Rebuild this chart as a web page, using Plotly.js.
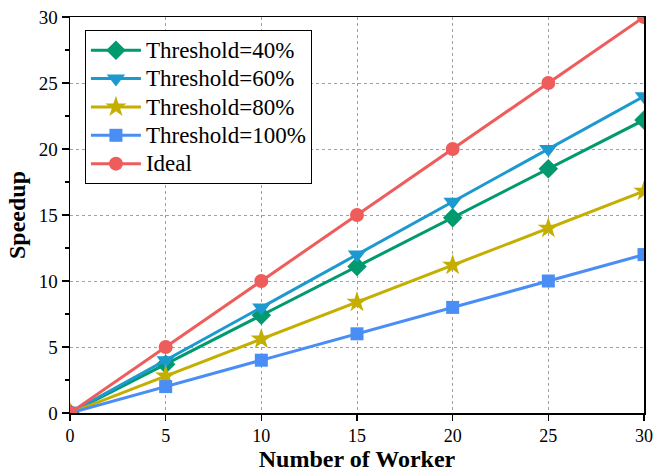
<!DOCTYPE html>
<html><head><meta charset="utf-8">
<script src="https://cdn.plot.ly/plotly-3.0.1.min.js"></script>
<style>html,body{margin:0;padding:0;background:#fff}</style>
</head><body>
<div id="chart" style="width:656px;height:472px"></div>
<script>
const workers = [0, 5, 10, 15, 20, 25, 30];
const th40 = [0, 3.7, 7.4, 11.1, 14.8, 18.5, 22.2];
const th60 = [0, 4, 8, 12, 16, 20, 24];
const th80 = [0, 2.8, 5.6, 8.4, 11.2, 14, 16.8];
const th100 = [0, 2, 4, 6, 8, 10, 12];
const ideal = [0, 5, 10, 15, 20, 25, 30];
const names = ['Threshold=40%', 'Threshold=60%', 'Threshold=80%', 'Threshold=100%', 'Ideal'];

const series = [th40, th60, th80, th100, ideal];
const colors = ['#009a6e', '#1c99cf', '#c4ae00', '#4a8ef5', '#ee5c5c'];
const symbols = ['diamond', 'triangle-down', 'star', 'square', 'circle'];
const sizes = [15, 16, 16, 13, 14];

const traces = series.map((s, i) => ({
  x: workers, y: s, name: '<span style="font-size:23px">' + names[i] + '</span>',
  type: 'scatter', mode: 'lines+markers',
  line: {color: colors[i], width: 3},
  marker: {symbol: symbols[i], size: sizes[i], color: colors[i]}
}));

const font = {family: '"Liberation Serif", "Times New Roman", serif', color: '#000'};
const layout = {
  width: 656, height: 472,
  margin: {l: 70, r: 12, t: 17, b: 59},
  paper_bgcolor: '#fff', plot_bgcolor: '#fff',
  font: Object.assign({size: 19}, font),
  showlegend: true,
  legend: {x: 0.026, y: 0.967, xanchor: 'left', yanchor: 'top', bordercolor: '#000', borderwidth: 1,
    bgcolor: '#fff', font: Object.assign({size: 19.5}, font), tracegroupgap: 0, itemwidth: 50},
  xaxis: {range: [0, 30], dtick: 5, tick0: 0, ticks: 'outside', ticklen: 6, tickwidth: 1.5, tickcolor: '#000',
    showline: true, linecolor: '#000', linewidth: 1.5, mirror: true, zeroline: false,
    showgrid: true, gridcolor: '#a0a0a0', griddash: '3px,3px', gridwidth: 1,
    tickfont: Object.assign({size: 18}, font),
    title: {text: '<b>Number of Worker</b>', font: Object.assign({size: 24}, font), standoff: 7}},
  yaxis: {range: [0, 30], dtick: 5, tick0: 0, ticks: 'outside', ticklen: 7, tickwidth: 1.5, tickcolor: '#000',
    showline: true, linecolor: '#000', linewidth: 1.5, mirror: true, zeroline: false,
    showgrid: true, gridcolor: '#a0a0a0', griddash: '3px,3px', gridwidth: 1,
    minor: {dtick: 2.5, ticks: 'outside', ticklen: 4, tickcolor: '#000', showgrid: false},
    tickfont: Object.assign({size: 19}, font),
    title: {text: '<b>Speedup</b>', font: Object.assign({size: 24}, font), standoff: 6}}
};
Plotly.newPlot('chart', traces, layout, {displayModeBar: false, staticPlot: true});
</script>
</body></html>
